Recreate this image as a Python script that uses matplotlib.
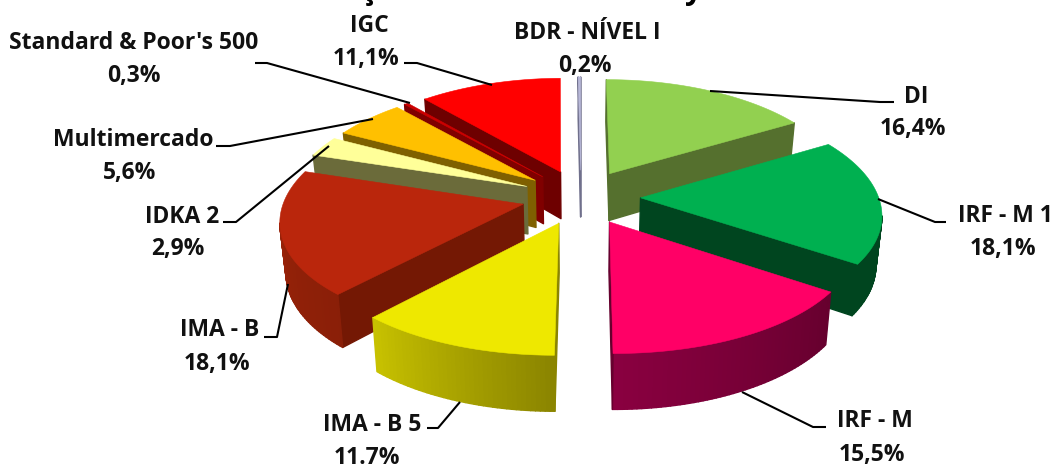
import numpy as np
import matplotlib
matplotlib.use('Agg')
import matplotlib.pyplot as plt
from matplotlib.colors import to_rgb

# carteira por segmento (%)
segmentos = ['DI', 'IRF - M 1', 'IRF - M', 'IMA - B 5', 'IMA - B', 'IDKA 2',
             'Multimercado', "Standard & Poor's 500", 'IGC', 'BDR - NÍVEL I']
valores = [16.4, 18.1, 15.5, 11.7, 18.1, 2.9, 5.6, 0.3, 11.1, 0.2]
rotulos = ['16,4%', '18,1%', '15,5%', '11.7%', '18,1%', '2,9%', '5,6%', '0,3%', '11,1%', '0,2%']

cor_topo = ['#92d050', '#00b050', '#ff0066', '#eee800', '#ba260c',
            '#ffff99', '#ffc000', '#cc0000', '#ff0000', '#b8b8d8']
cor_lado = ['#55702e', '#00451f', '#66002e', '#8a8400', '#741804',
            '#6b6b3a', '#7f6000', '#800000', '#6e0000', '#70708c']
# borda externa: inicio e fim do degrade
cor_arco_ini = ['#55702e', '#00451f', '#66002e', '#8a8400', '#8a1f08',
                '#6b6b3a', '#7f6000', '#800000', '#6e0000', '#70708c']
cor_arco_fim = ['#55702e', '#00451f', '#8a0040', '#c8c200', '#a02409',
                '#6b6b3a', '#7f6000', '#800000', '#6e0000', '#70708c']

# posicao do nome, posicao do percentual
pos_nome = [(916, 97), (1005, 216), (875, 421), (372, 425), (220, 330),
            (182, 217), (133, 140), (134, 43), (369, 26), (587, 33)]
pos_valor = [(913, 129), (1003, 249), (872, 455), (367, 458), (217, 364),
             (178, 249), (130, 173), (134, 76), (366, 59), (585, 66)]

# linhas de chamada
chamadas = [
    [(710, 91), (880, 102), (894, 102)],
    [(878, 199), (935, 222), (946, 222)],
    [(742, 392), (813, 427), (826, 427)],
    [(460, 402), (438, 428), (427, 428)],
    [(288, 284), (277, 337), (264, 337)],
    [(329, 146), (236, 222), (223, 222)],
    [(373, 119), (230, 146), (216, 146)],
    [(410, 103), (267, 63), (255, 63)],
    [(492, 85), (417, 63), (404, 63)],
]

# restos do titulo, cortado na borda de cima
titulo_letras = [('o', 227), ('o', 332), ('ç', 368), ('o', 420), ('o', 520),
                 ('y', 693), ('o', 755), ('o', 895)]

# perspectiva da pizza
CX, CY = 581, 197
A, B = 238, 110
K = 0.116
KX = 0.13
EXPLODE = 0.25
ALTURA = 48
ENCOLHE = 0.98  # a base fica um pouco mais estreita que o topo


def projeta(x, y):
    s = 1 / (1 + K * y)
    return CX + x * A / (1 + KX * y), CY - y * B * s, s


def mistura(c1, c2, t):
    c1, c2 = np.array(to_rgb(c1)), np.array(to_rgb(c2))
    return tuple(c1 + (c2 - c1) * t)


def fatia(ax, ini, fim, topo, lado, arco_ini, arco_fim):
    meio = (ini + fim) / 2
    ox, oy = EXPLODE * np.sin(meio), EXPLODE * np.cos(meio)
    n = max(int(np.degrees(fim - ini)), 2)
    t = np.linspace(ini, fim, n + 1)
    xs = np.concatenate([[ox], ox + np.sin(t), [ox]])
    ys = np.concatenate([[oy], oy + np.cos(t), [oy]])
    sx, sy, s = projeta(xs, ys)
    bx = CX + (sx - CX) * ENCOLHE
    by = sy + ALTURA * s
    # paredes visiveis: a borda anda para a esquerda na tela
    for i in range(len(xs) - 1):
        if sx[i + 1] >= sx[i]:
            continue
        if i == 0 or i == len(xs) - 2:
            cor = lado
        else:
            cor = mistura(arco_ini, arco_fim, (i - 0.5) / n)
        # contorno da mesma cor para nao deixar emenda entre as paredes
        ax.fill([sx[i], sx[i + 1], bx[i + 1], bx[i]],
                [sy[i], sy[i + 1], by[i + 1], by[i]],
                facecolor=cor, edgecolor=cor, lw=1.0, joinstyle='round')
    ax.fill(sx[:-1], sy[:-1], facecolor=topo, edgecolor=topo, lw=0.4)


fig = plt.figure(figsize=(10.56, 4.65), dpi=100)
ax = fig.add_axes([0, 0, 1, 1])
ax.set_xlim(0, 1056)
ax.set_ylim(465, 0)
ax.axis('off')

# angulos a partir do topo, sentido horario
v = np.array(valores)
lim = np.concatenate([[0], np.cumsum(v)]) / v.sum() * 2 * np.pi
meios = (lim[:-1] + lim[1:]) / 2
# desenha de tras para frente
for i in np.argsort(-np.cos(meios)):
    fatia(ax, lim[i], lim[i + 1], cor_topo[i], cor_lado[i], cor_arco_ini[i], cor_arco_fim[i])

for c in chamadas:
    ax.plot([p[0] for p in c], [p[1] for p in c], color='black', lw=1.5, solid_capstyle='butt')

fonte = dict(family='Open Sans', fontweight='bold', fontsize=16.5, color='#111111',
             ha='center', va='center')
for i in range(len(segmentos)):
    ax.text(pos_nome[i][0], pos_nome[i][1], segmentos[i], **fonte)
    ax.text(pos_valor[i][0], pos_valor[i][1], rotulos[i], **fonte)

for letra, x in titulo_letras:
    ax.text(x, -1, letra, family='Open Sans', fontweight='bold', fontsize=22, color='black',
            ha='center', va='baseline')

fig.savefig('out.png', dpi=100)
